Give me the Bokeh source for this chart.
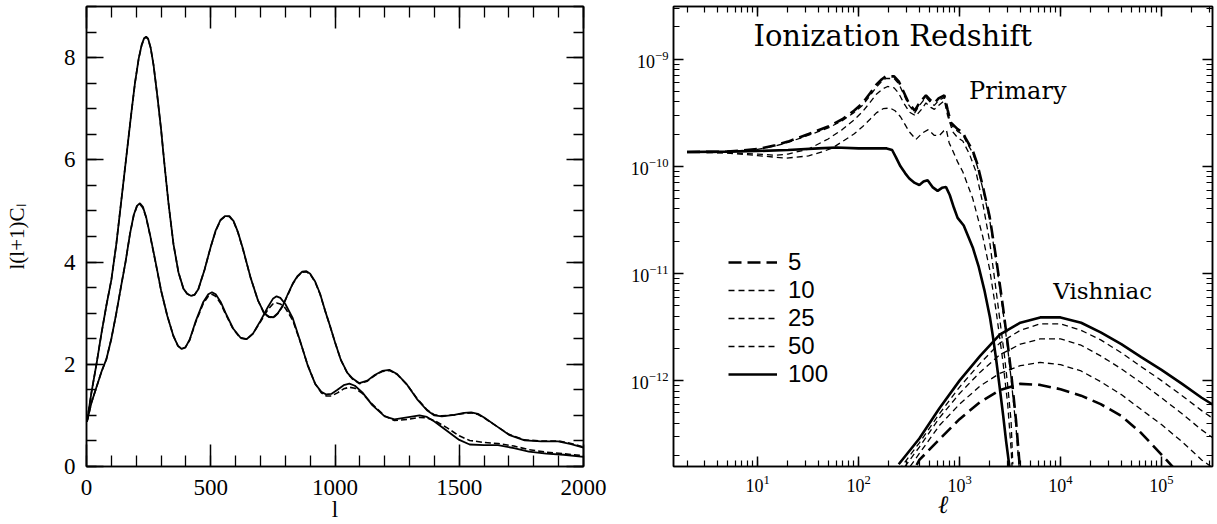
from bokeh.plotting import figure
from bokeh.models import (LinearAxis, LogAxis, SingleIntervalTicker, LogTicker, Range1d,
                          CustomJSTickFormatter, LogTickFormatter, Label, Legend, LegendItem)
from bokeh.layouts import row
from bokeh.embed import file_html
from bokeh.resources import INLINE

# ---------------- Left panel data: l(l+1)C_l versus l ----------------
A_l = [2, 20, 40, 60, 80, 100, 120, 140, 160, 180,
       195, 210, 222, 232, 240, 248, 258, 270, 285, 300,
       315, 330, 350, 370, 390, 405, 420, 435, 450, 475,
       500, 520, 540, 558, 575, 592, 610, 630, 660, 690,
       715, 735, 752, 770, 790, 810, 830, 850, 868, 885,
       900, 920, 940, 960, 980, 1000, 1024, 1050, 1071, 1098,
       1130, 1160, 1190, 1219, 1250, 1290, 1330, 1370, 1400, 1430,
       1480, 1520, 1548, 1575, 1600, 1650, 1700, 1763, 1830, 1898,
       1950, 2000]
A_y = [0.88, 1.45, 2.0, 2.6, 3.15, 3.65, 4.35, 5.2, 6.05, 6.9,
       7.5, 7.98, 8.25, 8.38, 8.41, 8.37, 8.2, 7.85, 7.25, 6.6,
       5.85, 5.15, 4.35, 3.8, 3.48, 3.38, 3.34, 3.36, 3.47, 3.85,
       4.3, 4.62, 4.83, 4.9, 4.9, 4.8, 4.58, 4.25, 3.7, 3.25,
       3.0, 2.93, 2.92, 3.0, 3.15, 3.37, 3.58, 3.73, 3.81, 3.82,
       3.77, 3.62, 3.38, 3.05, 2.75, 2.43, 2.08, 1.83, 1.72, 1.63,
       1.68, 1.79, 1.87, 1.89, 1.81, 1.6, 1.32, 1.1, 1.0, 0.98,
       1.01, 1.05, 1.06, 1.03, 0.96, 0.79, 0.62, 0.51, 0.49, 0.49,
       0.44, 0.37]
A_dash_y = [0.88, 1.45, 2.0, 2.6, 3.15, 3.65, 4.35, 5.2, 6.05, 6.9,
            7.5, 7.98, 8.24, 8.37, 8.4, 8.36, 8.19, 7.85, 7.25, 6.6,
            5.85, 5.15, 4.35, 3.8, 3.48, 3.38, 3.34, 3.36, 3.47, 3.85,
            4.3, 4.61, 4.82, 4.89, 4.89, 4.79, 4.57, 4.24, 3.7, 3.25,
            2.99, 2.92, 2.91, 2.99, 3.14, 3.36, 3.57, 3.72, 3.8, 3.81,
            3.76, 3.61, 3.37, 3.05, 2.75, 2.43, 2.08, 1.82, 1.71, 1.62,
            1.67, 1.78, 1.86, 1.88, 1.8, 1.6, 1.33, 1.11, 1.01, 0.99,
            1.01, 1.04, 1.05, 1.02, 0.95, 0.79, 0.63, 0.52, 0.5, 0.5,
            0.45, 0.38]

B_l = [2, 20, 40, 60, 80, 100, 120, 140, 157, 175,
       190, 203, 215, 227, 240, 255, 278, 300, 325, 350,
       368, 383, 398, 415, 440, 470, 490, 505, 520, 540,
       560, 590, 620, 644, 670, 700, 730, 750, 765, 780,
       800, 830, 860, 890, 920, 945, 965, 985, 1010, 1035,
       1058, 1080, 1110, 1150, 1200, 1239, 1290, 1340, 1370, 1400,
       1450, 1500, 1542, 1600, 1656, 1720, 1780, 1850, 1920, 2000]
B_y = [0.88, 1.25, 1.55, 1.85, 2.1, 2.5, 3.0, 3.55, 4.0, 4.55,
       4.92, 5.1, 5.15, 5.08, 4.88, 4.55, 4.0, 3.45, 2.95, 2.55,
       2.36, 2.3, 2.33, 2.48, 2.85, 3.22, 3.37, 3.41, 3.37, 3.22,
       3.0, 2.7, 2.52, 2.49, 2.6, 2.85, 3.12, 3.28, 3.33, 3.3,
       3.18, 2.9, 2.45, 1.98, 1.62, 1.46, 1.41, 1.42, 1.5, 1.59,
       1.62, 1.58, 1.45, 1.2, 0.98, 0.92, 0.96, 1.0, 0.97, 0.88,
       0.7, 0.52, 0.43, 0.42, 0.42, 0.36, 0.29, 0.25, 0.23, 0.19]
B_dash_y = [0.88, 1.25, 1.55, 1.85, 2.1, 2.5, 3.0, 3.55, 4.0, 4.55,
            4.91, 5.09, 5.13, 5.06, 4.87, 4.54, 3.99, 3.44, 2.95, 2.55,
            2.36, 2.3, 2.33, 2.47, 2.83, 3.19, 3.33, 3.37, 3.33, 3.19,
            2.98, 2.69, 2.51, 2.49, 2.6, 2.83, 3.07, 3.18, 3.2, 3.18,
            3.1, 2.86, 2.44, 1.99, 1.62, 1.44, 1.38, 1.38, 1.44, 1.52,
            1.55, 1.53, 1.43, 1.22, 0.99, 0.9, 0.92, 0.96, 0.95, 0.9,
            0.76, 0.6, 0.51, 0.47, 0.45, 0.4, 0.33, 0.28, 0.25, 0.21]

# ---------------- Right panel data: primary anisotropies ----------------
P5_l = [2, 5, 10, 15, 20, 32, 50, 69, 90, 110, 130, 149, 170, 186, 225, 250, 273, 310, 360, 400,
        465, 520, 563, 620, 707, 760, 822, 957, 1077, 1158, 1352, 1500, 1700, 1985, 2300, 2690,
        3000, 3240, 3630, 3930]
P5_y = [1.36e-10, 1.37e-10, 1.45e-10, 1.57e-10, 1.7e-10, 2.0e-10, 2.35e-10, 2.75e-10, 3.3e-10,
        3.9e-10, 4.8e-10, 5.75e-10, 6.5e-10, 6.9e-10, 6.9e-10, 6.2e-10, 5.2e-10, 4.0e-10,
        3.3e-10, 3.9e-10, 4.6e-10, 4.1e-10, 3.9e-10, 4.3e-10, 4.6e-10, 3.4e-10, 2.56e-10,
        2.22e-10, 2.07e-10, 1.8e-10, 1.4e-10, 1.05e-10, 6.5e-11, 3.4e-11, 1.4e-11, 4.9e-12,
        2.2e-12, 1.2e-12, 4.2e-13, 1.66e-13]
P10_l = P5_l
P10_y = [1.36e-10, 1.37e-10, 1.44e-10, 1.55e-10, 1.67e-10, 1.95e-10, 2.28e-10, 2.66e-10,
         3.17e-10, 3.72e-10, 4.55e-10, 5.45e-10, 6.2e-10, 6.6e-10, 6.6e-10, 5.9e-10, 4.95e-10,
         3.8e-10, 3.15e-10, 3.7e-10, 4.4e-10, 3.9e-10, 3.7e-10, 4.1e-10, 4.4e-10, 3.25e-10,
         2.45e-10, 2.12e-10, 1.98e-10, 1.72e-10, 1.33e-10, 1.0e-10, 6.2e-11, 3.2e-11, 1.3e-11,
         4.5e-12, 2.0e-12, 1.05e-12, 3.6e-13, 1.4e-13]
P25_l = [2, 5, 10, 15, 20, 32, 50, 69, 90, 110, 130, 150, 175, 194, 225, 250, 280, 320, 370,
         420, 465, 520, 563, 620, 707, 760, 857, 957, 1077, 1254, 1450, 1700, 1985, 2300, 2786,
         3000, 3240, 3370]
P25_y = [1.36e-10, 1.34e-10, 1.3e-10, 1.27e-10, 1.3e-10, 1.45e-10, 1.8e-10, 2.2e-10, 2.7e-10,
         3.25e-10, 3.95e-10, 4.7e-10, 5.3e-10, 5.56e-10, 5.4e-10, 4.8e-10, 3.9e-10, 3.2e-10,
         2.95e-10, 3.4e-10, 3.9e-10, 3.55e-10, 3.4e-10, 3.7e-10, 4.1e-10, 3.0e-10, 2.1e-10,
         1.85e-10, 1.72e-10, 1.3e-10, 9.0e-11, 4.5e-11, 2.0e-11, 7.0e-12, 1.7e-12, 9.0e-13,
         4.2e-13, 1.66e-13]
P50_l = [2, 5, 10, 19, 32, 45, 55, 69, 90, 110, 130, 150, 175, 205, 230, 260, 318, 370, 430,
         490, 560, 630, 700, 740, 790, 857, 957, 1077, 1352, 1700, 1985, 2300, 2690, 3000, 3250,
         3320]
P50_y = [1.36e-10, 1.33e-10, 1.26e-10, 1.19e-10, 1.25e-10, 1.38e-10, 1.48e-10, 1.7e-10,
         2.0e-10, 2.35e-10, 2.75e-10, 3.15e-10, 3.45e-10, 3.5e-10, 3.3e-10, 2.9e-10, 2.1e-10,
         1.78e-10, 2.05e-10, 2.2e-10, 1.95e-10, 1.93e-10, 2.15e-10, 2.2e-10, 1.65e-10, 1.4e-10,
         1.1e-10, 8.9e-11, 5.0e-11, 2.2e-11, 1.1e-11, 4.5e-12, 1.5e-12, 6.0e-13, 2.2e-13,
         1.5e-13]
P100_l = [2, 5, 10, 20, 40, 60, 100, 150, 190, 215, 234, 260, 290, 318, 360, 400, 440, 483, 540,
          607, 670, 735, 800, 880, 957, 1100, 1352, 1550, 1762, 2000, 2138, 2300, 2485, 2700,
          2896, 3127]
P100_y = [1.36e-10, 1.37e-10, 1.39e-10, 1.42e-10, 1.47e-10, 1.5e-10, 1.47e-10, 1.47e-10,
          1.47e-10, 1.42e-10, 1.22e-10, 1.0e-10, 8.6e-11, 7.7e-11, 7.0e-11, 6.7e-11, 7.2e-11,
          7.4e-11, 6.4e-11, 5.9e-11, 6.3e-11, 6.4e-11, 5.4e-11, 4.1e-11, 3.3e-11, 2.8e-11,
          1.75e-11, 1.15e-11, 7.0e-12, 3.9e-12, 2.6e-12, 1.6e-12, 9.0e-13, 4.8e-13, 2.7e-13,
          1.55e-13]

# ---------------- Right panel data: Vishniac effect ----------------
V_l = [250, 400, 630, 1000, 1600, 2500, 4000, 6300, 10000, 16000, 25000, 40000, 63000, 100000,
       160000, 250000, 330000]
V100_y = [1.66e-13, 2.88e-13, 5.50e-13, 1.00e-12, 1.70e-12, 2.69e-12, 3.47e-12, 3.89e-12,
          3.89e-12, 3.47e-12, 2.82e-12, 2.19e-12, 1.66e-12, 1.26e-12, 9.33e-13, 6.92e-13, 5.89e-13]
V50_y = [1.45e-13, 2.63e-13, 4.90e-13, 8.71e-13, 1.45e-12, 2.24e-12, 2.95e-12, 3.39e-12,
         3.39e-12, 2.95e-12, 2.40e-12, 1.82e-12, 1.35e-12, 1.00e-12, 7.24e-13, 5.25e-13, 4.37e-13]
V25_y = [1.32e-13, 2.40e-13, 4.47e-13, 7.59e-13, 1.20e-12, 1.74e-12, 2.19e-12, 2.45e-12,
         2.45e-12, 2.14e-12, 1.70e-12, 1.29e-12, 9.55e-13, 6.92e-13, 4.90e-13, 3.47e-13, 2.88e-13]
V10_y = [1.12e-13, 2.09e-13, 3.80e-13, 6.03e-13, 8.91e-13, 1.17e-12, 1.38e-12, 1.48e-12,
         1.41e-12, 1.23e-12, 9.77e-13, 7.41e-13, 5.37e-13, 3.89e-13, 2.69e-13, 1.82e-13, 1.51e-13]
V5_y = [7.94e-14, 1.82e-13, 2.82e-13, 4.37e-13, 6.31e-13, 8.13e-13, 9.33e-13, 9.12e-13,
        8.32e-13, 7.24e-13, 6.03e-13, 4.68e-13, 3.24e-13, 2.04e-13, 1.26e-13, 7.08e-14, 5.01e-14]

legend_labels = ["5", "10", "25", "50", "100"]

SERIF = "Liberation Serif"
BLANK = CustomJSTickFormatter(code="return ''")

# =============== Left figure ===============
p1 = figure(width=625, height=524, x_range=Range1d(0, 2000), y_range=Range1d(0, 9),
            output_backend="svg", toolbar_location=None,
            min_border_left=86, min_border_right=42, min_border_top=6, min_border_bottom=55)
p1.grid.visible = False
p1.outline_line_color = "black"
p1.outline_line_width = 1.5
p1.background_fill_color = "white"
p1.border_fill_color = "white"

p1.xaxis.ticker = SingleIntervalTicker(interval=500, num_minor_ticks=5)
p1.yaxis.ticker = SingleIntervalTicker(interval=2, num_minor_ticks=4)
for ax in (p1.xaxis, p1.yaxis):
    ax.major_tick_out = 0
    ax.minor_tick_out = 0
    ax.axis_line_width = 1.5
    ax.major_tick_line_width = 1.5
    ax.minor_tick_line_width = 1.3
    ax.major_label_text_font = SERIF
    ax.major_label_text_font_size = "23px"
    ax.major_label_text_color = "black"
    ax.axis_label_text_font = SERIF
    ax.axis_label_text_font_style = "normal"
    ax.axis_label_text_color = "black"
p1.xaxis.major_tick_in = 22
p1.xaxis.minor_tick_in = 11
p1.yaxis.major_tick_in = 17
p1.yaxis.minor_tick_in = 10
p1.xaxis.axis_label = "l"
p1.xaxis.axis_label_text_font_size = "23px"
p1.yaxis.axis_label = "l(l+1)C\u2097"
p1.yaxis.axis_label_text_font_size = "21px"
p1.xaxis.major_label_standoff = 13
p1.xaxis.axis_label_standoff = -1
p1.yaxis.major_label_standoff = 11
p1.yaxis.axis_label_standoff = 32

top1 = LinearAxis(ticker=SingleIntervalTicker(interval=500, num_minor_ticks=5), formatter=BLANK,
                  major_tick_in=22, minor_tick_in=11, major_tick_out=0, minor_tick_out=0,
                  major_label_standoff=0, axis_line_width=1.5, major_tick_line_width=1.5,
                  minor_tick_line_width=1.3, major_label_text_font_size="1px")
right1 = LinearAxis(ticker=SingleIntervalTicker(interval=2, num_minor_ticks=4), formatter=BLANK,
                    major_tick_in=17, minor_tick_in=10, major_tick_out=0, minor_tick_out=0,
                    major_label_standoff=0, axis_line_width=1.5, major_tick_line_width=1.5,
                    minor_tick_line_width=1.3, major_label_text_font_size="1px")
p1.add_layout(top1, "above")
p1.add_layout(right1, "right")

p1.line(A_l, A_dash_y, line_color="black", line_width=1.6, line_dash="6 3")
p1.line(B_l, B_dash_y, line_color="black", line_width=1.6, line_dash="6 3")
p1.line(A_l, A_y, line_color="black", line_width=1.8)
p1.line(B_l, B_y, line_color="black", line_width=1.8)

# =============== Right figure ===============
p2 = figure(width=592, height=524, x_axis_type="log", y_axis_type="log",
            x_range=Range1d(1.47, 3.2e5), y_range=Range1d(1.58e-13, 3.1e-9),
            output_backend="svg", toolbar_location=None,
            min_border_left=48, min_border_right=5, min_border_top=5, min_border_bottom=52)
p2.grid.visible = False
p2.outline_line_color = "black"
p2.outline_line_width = 1.5
p2.background_fill_color = "white"
p2.border_fill_color = "white"

for ax in (p2.xaxis, p2.yaxis):
    ax.ticker = LogTicker(mantissas=[1], desired_num_ticks=6, num_minor_ticks=10)
    ax.formatter = LogTickFormatter(min_exponent=0)
    ax.major_tick_in = 10
    ax.minor_tick_in = 6
    ax.major_tick_out = 0
    ax.minor_tick_out = 0
    ax.axis_line_width = 1.5
    ax.major_tick_line_width = 1.5
    ax.minor_tick_line_width = 1.2
    ax.major_label_text_font = SERIF
    ax.major_label_text_font_size = "18px"
    ax.major_label_text_color = "black"
p2.xaxis.axis_label = "\u2113"
p2.xaxis.axis_label_text_font = SERIF
p2.xaxis.axis_label_text_font_style = "italic"
p2.xaxis.axis_label_text_font_size = "25px"
p2.xaxis.axis_label_text_color = "black"
p2.xaxis.axis_label_standoff = -4
p2.xaxis.major_label_standoff = 8
p2.yaxis.major_label_standoff = 5

for loc in ("above", "right"):
    ax = LogAxis(ticker=LogTicker(mantissas=[1], desired_num_ticks=6, num_minor_ticks=10),
                 formatter=BLANK, major_tick_in=10, minor_tick_in=6, major_tick_out=0,
                 minor_tick_out=0, major_label_standoff=0, axis_line_width=1.5,
                 major_tick_line_width=1.5, minor_tick_line_width=1.2,
                 major_label_text_font_size="1px")
    p2.add_layout(ax, loc)

thick = 2.6
thin = 1.3
r5 = p2.line(P5_l, P5_y, line_color="black", line_width=thick, line_dash="13 6")
r10 = p2.line(P10_l, P10_y, line_color="black", line_width=thin, line_dash="6 4")
r25 = p2.line(P25_l, P25_y, line_color="black", line_width=thin, line_dash="6 4")
r50 = p2.line(P50_l, P50_y, line_color="black", line_width=thin, line_dash="6 4")
r100 = p2.line(P100_l, P100_y, line_color="black", line_width=thick)

p2.line(V_l, V5_y, line_color="black", line_width=thick, line_dash="13 6")
p2.line(V_l, V10_y, line_color="black", line_width=thin, line_dash="6 4")
p2.line(V_l, V25_y, line_color="black", line_width=thin, line_dash="6 4")
p2.line(V_l, V50_y, line_color="black", line_width=thin, line_dash="6 4")
p2.line(V_l, V100_y, line_color="black", line_width=thick)

legend = Legend(items=[LegendItem(label=lab, renderers=[r]) for lab, r in
                       zip(legend_labels, [r5, r10, r25, r50, r100])],
                location=(55, 78), background_fill_alpha=0, border_line_color=None,
                padding=0, margin=0, spacing=0, glyph_width=49, glyph_height=26,
                label_height=26, label_standoff=11, label_text_font="Liberation Sans",
                label_text_font_size="24px", label_text_color="black")
p2.add_layout(legend, "center")

TF = "DejaVu Serif"
p2.add_layout(Label(x=9.1, y=1.63e-9, text="Ionization Redshift", text_font=TF,
                    text_font_size="29px", text_baseline="alphabetic", text_color="black"))
p2.add_layout(Label(x=1242, y=5.0e-10, text="Primary", text_font=TF,
                    text_font_size="24px", text_baseline="alphabetic", text_color="black"))
p2.add_layout(Label(x=8470, y=6.8e-12, text="Vishniac", text_font=TF,
                    text_font_size="23px", text_baseline="alphabetic", text_color="black"))

layout = row(p1, p2)
open("out.html", "w").write(file_html(layout, INLINE))
